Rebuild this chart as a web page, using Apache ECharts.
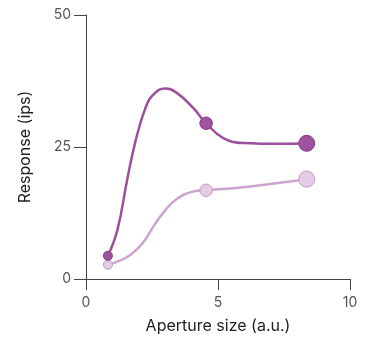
<!DOCTYPE html>
<html>
<head>
<meta charset="utf-8">
<script src="https://cdn.jsdelivr.net/npm/echarts@6/dist/echarts.min.js"></script>
<style>
  html, body { margin: 0; padding: 0; background: #fff; }
  #chart { width: 373px; height: 339px; }
</style>
</head>
<body>
<div id="chart"></div>
<script>
// fitted curves
const darkFitX = [0.83, 1.19, 1.56, 1.88, 2.26, 2.55, 2.99, 3.45, 4.06, 4.55, 5.20, 5.96, 7.35, 8.36]
const darkFitY = [4.4, 9.3, 18.8, 26.2, 32.5, 34.9, 36.1, 35.2, 32.4, 29.5, 26.7, 25.76, 25.6, 25.7]
const lightFitX = [0.83, 1.19, 1.69, 2.15, 2.61, 3.00, 3.40, 4.00, 4.55, 5.58, 6.84, 8.36]
const lightFitY = [2.7, 3.3, 4.6, 6.8, 10.4, 13.0, 15.0, 16.5, 16.8, 17.2, 17.9, 18.9]

// measured points
const pointX = [0.83, 4.55, 8.36]
const darkPointY = [4.4, 29.5, 25.7]
const lightPointY = [2.7, 16.8, 18.9]
const pointWeight = [1, 2, 3]

const xTicks = [0, 5, 10]
const yTicks = [0, 25, 50]

const FONT = 'Inter, Roboto, sans-serif'
const DARK = '#9c4f9c'
const LIGHT = '#cfa3cf'

const zip = (xs, ys) => xs.map((x, i) => [x, ys[i], pointWeight[i]])
const sizeOf = (v) => 5.5 + v[2] * 3.5

const chart = echarts.init(document.getElementById('chart'), null, { renderer: 'canvas' })

chart.setOption({
  animation: false,
  grid: { left: 86, right: 23, top: 15, bottom: 60 },
  xAxis: {
    type: 'value',
    min: xTicks[0],
    max: xTicks[xTicks.length - 1],
    interval: xTicks[1] - xTicks[0],
    name: 'Aperture size (a.u.)',
    nameLocation: 'middle',
    nameGap: 39,
    nameTextStyle: { fontFamily: FONT, fontSize: 16, color: '#222' },
    axisLine: { lineStyle: { color: '#444', width: 1 } },
    axisTick: { length: 11, lineStyle: { color: '#444' } },
    axisLabel: { fontFamily: FONT, fontSize: 14, color: '#555', margin: 17 },
    splitLine: { show: false },
  },
  yAxis: {
    type: 'value',
    min: yTicks[0],
    max: yTicks[yTicks.length - 1],
    interval: yTicks[1] - yTicks[0],
    name: 'Response (ips)',
    nameLocation: 'middle',
    nameGap: 53,
    nameTextStyle: { fontFamily: FONT, fontSize: 16, color: '#222' },
    axisLine: { show: true, lineStyle: { color: '#444', width: 1 } },
    axisTick: { show: true, length: 12, lineStyle: { color: '#444' } },
    axisLabel: { fontFamily: FONT, fontSize: 14, color: '#555', margin: 15 },
    splitLine: { show: false },
  },
  series: [
    {
      name: 'light fit',
      type: 'line',
      data: lightFitX.map((x, i) => [x, lightFitY[i]]),
      smooth: 0.45,
      showSymbol: false,
      lineStyle: { color: LIGHT, width: 2.5 },
      z: 2,
    },
    {
      name: 'dark fit',
      type: 'line',
      data: darkFitX.map((x, i) => [x, darkFitY[i]]),
      smooth: 0.45,
      showSymbol: false,
      lineStyle: { color: DARK, width: 2.5 },
      z: 2,
    },
    {
      name: 'light',
      type: 'scatter',
      data: zip(pointX, lightPointY),
      symbolSize: sizeOf,
      itemStyle: { color: '#e4cde4', borderColor: '#c697c6', borderWidth: 1, opacity: 1 },
      z: 3,
    },
    {
      name: 'dark',
      type: 'scatter',
      data: zip(pointX, darkPointY),
      symbolSize: sizeOf,
      itemStyle: { color: '#a0519f', borderColor: '#83387f', borderWidth: 1, opacity: 1 },
      z: 4,
    },
  ],
})
</script>
</body>
</html>
